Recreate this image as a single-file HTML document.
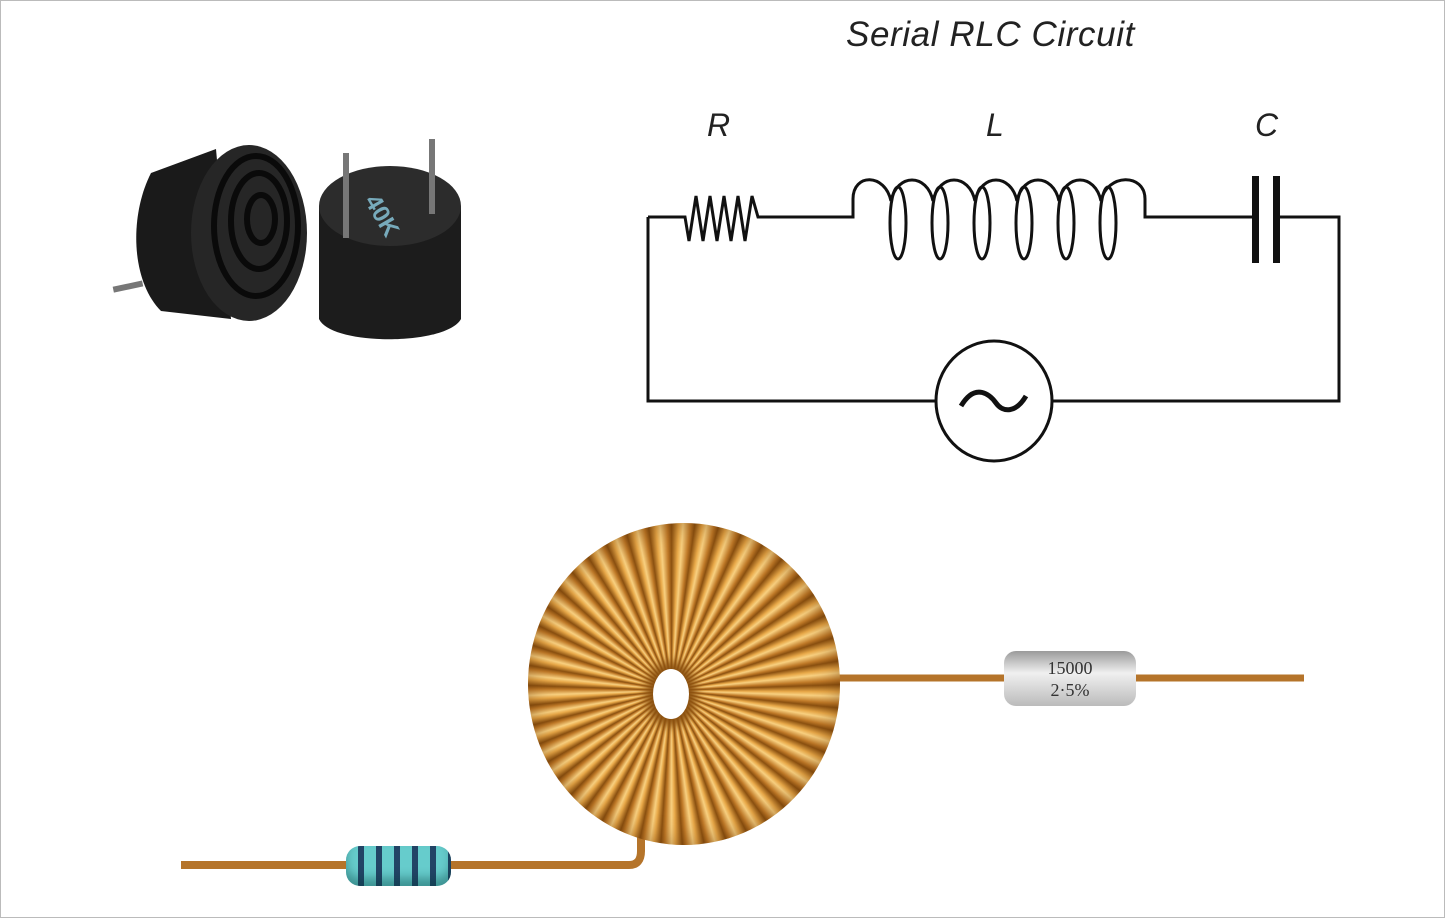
<!DOCTYPE html>
<html><head><meta charset="utf-8"><style>
html,body{margin:0;padding:0;background:#fff}
#p{position:relative;width:1443px;height:916px;border:1px solid #bbb;overflow:hidden;background:#fff}
.t{position:absolute;font-family:"Liberation Sans",sans-serif;font-style:italic;color:#222}
#tor{position:absolute;left:527px;top:522px;width:312px;height:322px;border-radius:50%;
background:repeating-conic-gradient(from 0deg at 46% 52%,#8a5010 0deg,#e8a848 2.5deg,#f8d080 4deg,#c07a28 6.5deg,#8a5010 8deg);
box-shadow:inset 0 0 25px rgba(90,45,0,.45)}
#hole{position:absolute;left:652px;top:668px;width:36px;height:50px;border-radius:50%;background:#fff;box-shadow:0 0 10px 8px #8a5010}
</style></head><body><div id="p">
<div class="t" style="left:845px;top:14px;font-size:35px;letter-spacing:0.6px">Serial RLC Circuit</div>
<div class="t" style="left:706px;top:106px;font-size:32px">R</div>
<div class="t" style="left:985px;top:106px;font-size:32px">L</div>
<div class="t" style="left:1254px;top:106px;font-size:32px">C</div>
<svg width="1443" height="916" style="position:absolute;left:0;top:0">
<g fill="none" stroke="#111" stroke-width="3">
<path d="M647,216 L684,216 L688,240 L695,195 L702,240 L709,195 L716,240 L723,195 L730,240 L737,195 L744,240 L751,195 L757,216 L852,216 L852,198 C852,172 884,172 890,200"/>
<path d="M890,200 C896,172 926,172 932,200 M932,200 C938,172 968,172 974,200 M974,200 C980,172 1010,172 1016,200 M1016,200 C1022,172 1052,172 1058,200 M1058,200 C1064,172 1094,172 1100,200 M1100,200 C1106,172 1144,172 1144,198 L1144,216 L1256,216"/>
<ellipse cx="897" cy="222" rx="8" ry="36"/><ellipse cx="939" cy="222" rx="8" ry="36"/><ellipse cx="981" cy="222" rx="8" ry="36"/><ellipse cx="1023" cy="222" rx="8" ry="36"/><ellipse cx="1065" cy="222" rx="8" ry="36"/><ellipse cx="1107" cy="222" rx="8" ry="36"/>
<path d="M1276,216 L1338,216 L1338,400 L1051,400 M935,400 L647,400 L647,216"/>
<ellipse cx="993" cy="400" rx="58" ry="60"/>
<path d="M960,405 C975,380 990,395 995,402 C1002,412 1015,412 1025,395" stroke-width="5"/>
</g>
<rect x="1251" y="175" width="7" height="87" fill="#111"/><rect x="1272" y="175" width="7" height="87" fill="#111"/>
<rect x="112" y="283" width="30" height="6" fill="#777" transform="rotate(-12 125 286)"/>
<path d="M215,148 L150,172 C128,215 130,280 160,310 L230,318 Z" fill="#1a1a1a"/>
<ellipse cx="248" cy="232" rx="58" ry="88" fill="#262626"/>
<g fill="none" stroke="#0a0a0a" stroke-width="6"><ellipse cx="255" cy="225" rx="42" ry="70"/><ellipse cx="258" cy="220" rx="28" ry="48"/><ellipse cx="260" cy="218" rx="14" ry="24"/></g>
<path d="M318,205 L318,318 C330,345 445,345 460,318 L460,205 Z" fill="#1c1c1c"/>
<ellipse cx="389" cy="205" rx="71" ry="40" fill="#2c2c2c"/>
<rect x="342" y="152" width="6" height="85" fill="#777"/><rect x="428" y="138" width="6" height="75" fill="#777"/>
<text x="360" y="215" fill="#7ab" font-family="Liberation Sans" font-size="24" font-weight="bold" transform="rotate(60 375 210)">40K</text>
<path d="M180,864 L628,864 Q640,864 640,850 L640,820" stroke="#b5742a" stroke-width="8" fill="none"/>
<path d="M830,677 L1303,677" stroke="#b5742a" stroke-width="7"/>
</svg>
<div id="tor"></div><div id="hole"></div>
<div style="position:absolute;left:1003px;top:650px;width:132px;height:55px;border-radius:12px;background:linear-gradient(#9a9a9a,#f0f0f0 40%,#bbb);font:18px 'Liberation Serif',serif;color:#333;text-align:center;line-height:22px;padding-top:6px;box-sizing:border-box">15000<br>2·5%</div>
<div style="position:absolute;left:345px;top:845px;width:105px;height:40px;border-radius:14px;background:repeating-linear-gradient(90deg,#6cc 0 12px,#246 12px 18px);box-shadow:inset 0 -8px 10px rgba(0,60,60,.4)"></div>
</div></body></html>
